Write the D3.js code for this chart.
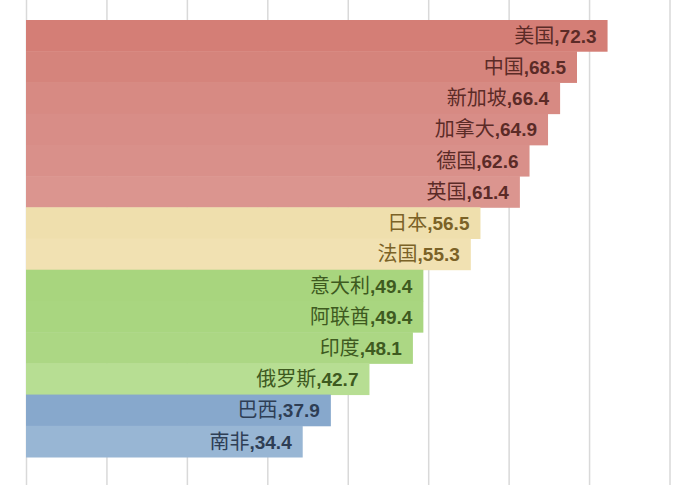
<!DOCTYPE html>
<html>
<head>
<meta charset="utf-8">
<script src="https://cdn.jsdelivr.net/npm/d3@7"></script>
<style>
  body { margin: 0; background: #fff; }
</style>
</head>
<body>
<div id="vis"></div>
<script>
const countries = ["美国", "中国", "新加坡", "加拿大", "德国", "英国", "日本", "法国",
                   "意大利", "阿联酋", "印度", "俄罗斯", "巴西", "南非"];
const values = [72.3, 68.5, 66.4, 64.9, 62.6, 61.4, 56.5, 55.3, 49.4, 49.4, 48.1, 42.7, 37.9, 34.4];
const groups = ["red", "red", "red", "red", "red", "red", "yellow", "yellow",
                "green", "green", "green", "green", "blue", "blue"];
const xTicks = [0, 10, 20, 30, 40, 50, 60, 70, 80];

const FRAME_WIDTH = 700;
const FRAME_HEIGHT = 500;
const MARGINS = {left: 26, right: 30.5, top: 20, bottom: 43};
const GRID_BOTTOM = 485;

// per-bar shades, a bit lighter going down each group
const barColors = ["#d47e76", "#d5847c", "#d78a83", "#d88d87", "#d9908a", "#db958f",
                   "#efdfad", "#f1e1b2",
                   "#a8d57e", "#a9d680", "#acd784", "#b7de93",
                   "#87a8cc", "#98b6d4"];
const textColors = {red: "#5b2b27", yellow: "#7b6227", green: "#3e5a1f", blue: "#2e3e55"};

const data = countries.map((c, i) => ({name: c, value: values[i], group: groups[i], color: barColors[i]}));

const svg = d3.select("#vis")
  .append("svg")
    .attr("width", FRAME_WIDTH)
    .attr("height", FRAME_HEIGHT);

const X_SCALE = d3.scaleLinear()
  .domain([0, 80])
  .range([MARGINS.left, FRAME_WIDTH - MARGINS.right]);

const Y_SCALE = d3.scaleBand()
  .domain(countries)
  .range([MARGINS.top, FRAME_HEIGHT - MARGINS.bottom])
  .padding(0);

// vertical gridlines
const grid = svg.append("g")
  .attr("transform", "translate(0," + GRID_BOTTOM + ")")
  .call(d3.axisBottom(X_SCALE).tickValues(xTicks).tickSize(GRID_BOTTOM).tickFormat(""));
grid.select(".domain").remove();
grid.selectAll(".tick line")
  .attr("y2", -GRID_BOTTOM)
  .attr("stroke", "#d9d9d9")
  .attr("stroke-width", 1.5);

// bars
svg.selectAll(".bar")
  .data(data)
  .enter()
  .append("rect")
    .attr("class", "bar")
    .attr("x", X_SCALE(0))
    .attr("y", (d) => Y_SCALE(d.name))
    .attr("width", (d) => X_SCALE(d.value) - X_SCALE(0))
    .attr("height", Y_SCALE.bandwidth() + 0.5)
    .attr("fill", (d) => d.color);

// labels inside bar ends
const labels = svg.selectAll(".label")
  .data(data)
  .enter()
  .append("text")
    .attr("class", "label")
    .attr("x", (d) => X_SCALE(d.value) - 11)
    .attr("y", (d) => Y_SCALE(d.name) + Y_SCALE.bandwidth() / 2)
    .attr("dy", "0.36em")
    .attr("text-anchor", "end")
    .attr("fill", (d) => textColors[d.group])
    .attr("font-size", "20px");

labels.append("tspan")
  .attr("font-family", "'Noto Sans CJK SC', sans-serif")
  .text((d) => d.name);
labels.append("tspan")
  .attr("font-family", "'Liberation Sans', Arial, sans-serif")
  .attr("font-weight", "bold")
  .attr("font-size", "19px")
  .text((d) => "," + d.value.toFixed(1));
</script>
</body>
</html>
